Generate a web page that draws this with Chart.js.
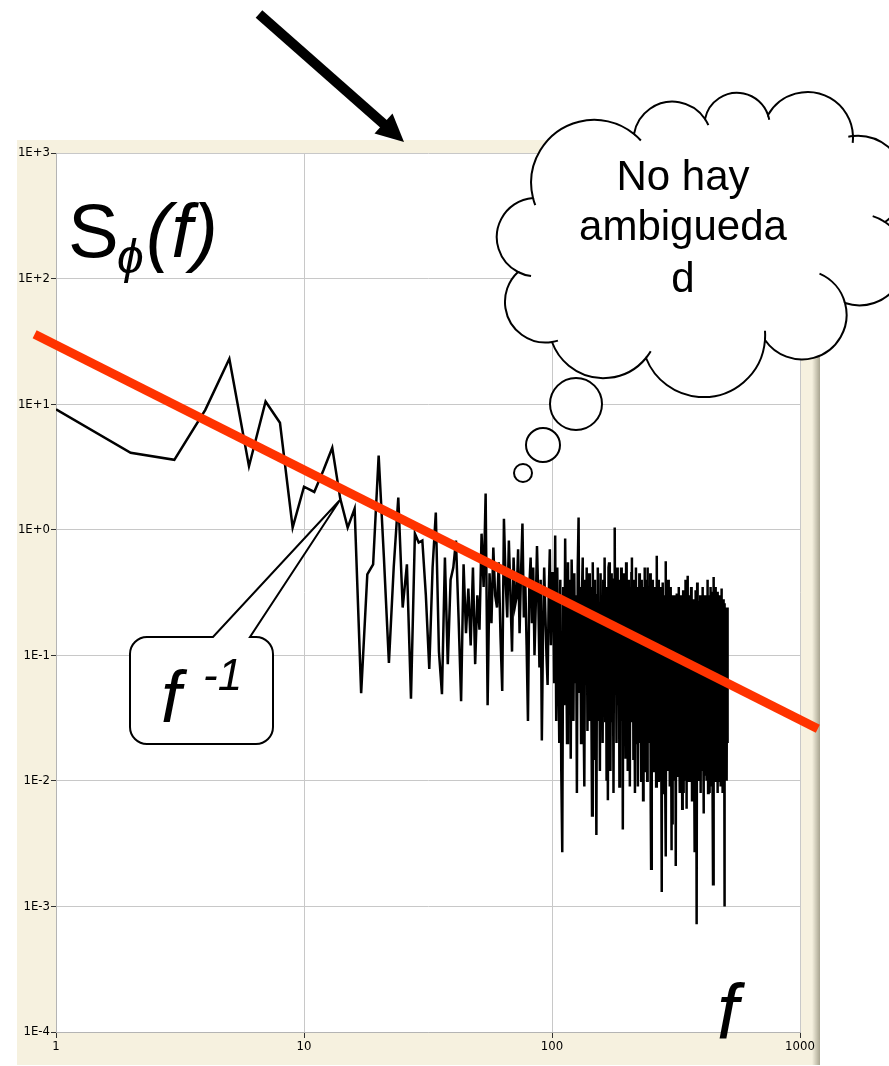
<!DOCTYPE html>
<html>
<head>
<meta charset="utf-8">
<script src="https://cdn.jsdelivr.net/npm/chart.js@4.4.1/dist/chart.umd.min.js"></script>
<style>
  body { margin: 0; background: #fff; overflow: hidden; }
  #stage { position: relative; width: 889px; height: 1066px; }
  #plot { position: absolute; left: 17px; top: 140px; width: 803px; height: 925px; }
  #deco, #labels { position: absolute; left: 0; top: 0; width: 889px; height: 1066px; pointer-events: none; }
  #labels text { font-family: Arial, 'Liberation Sans', sans-serif; fill: #000; }
</style>
</head>
<body>
<div id="stage">
  <div id="plot"><canvas id="specChart"></canvas></div>
  <canvas id="deco" width="889" height="1066"></canvas>
  <svg id="labels" width="889" height="1066">
    <text x="68" y="257" font-size="76">S</text>
    <text x="117" y="273" font-size="48" font-style="italic">ϕ</text>
    <text x="146" y="257" font-size="76" font-style="italic">(f)</text>
    <text x="717" y="1039" font-size="77" font-style="italic">f</text>
    <text x="161" y="722" font-size="72" font-style="italic">f</text>
    <text x="203" y="690" font-size="44" font-style="italic">-1</text>
    <text x="683" y="190" font-size="42" text-anchor="middle">No hay</text>
    <text x="683" y="240" font-size="42" text-anchor="middle">ambigueda</text>
    <text x="683" y="292" font-size="42" text-anchor="middle">d</text>
  </svg>
</div>
<script>
// power spectrum S(f), one value per frequency bin f = 1..512
const spectrum = [
    9.1, 4.1, 3.6, 9.0, 23, 3.2, 10.5, 7.1, 1.04, 2.2,
    2.0, 3.0, 4.5, 1.77, 1.04, 1.47, 0.05, 0.44, 0.53, 3.9,
    0.6, 0.087, 0.5, 1.8, 0.24, 0.53, 0.045, 0.93, 0.79, 0.82,
    0.3, 0.078, 0.5, 1.37, 0.107, 0.049, 0.6, 0.085, 0.4, 0.5,
    0.82, 0.2, 0.043, 0.53, 0.15, 0.34, 0.12, 0.5, 0.085, 0.3,
    0.16, 0.93, 0.35, 1.94, 0.04, 0.45, 0.18, 0.72, 0.3, 0.24,
    0.55, 0.14, 0.052, 1.22, 0.4, 0.2, 0.82, 0.3, 0.107, 0.6,
    0.25, 0.29, 0.7, 0.15, 0.45, 1.12, 0.2, 0.4, 0.12, 0.03,
    0.35, 0.6, 0.18, 0.5, 0.1, 0.25, 0.74, 0.3, 0.08, 0.4,
    0.021, 0.15, 0.5, 0.22, 0.1, 0.058, 0.3, 0.7, 0.12, 0.45,
    0.45, 0.06, 0.9, 0.03, 0.5, 0.1, 0.02, 0.4, 0.012, 0.0027,
    0.35, 0.04, 0.85, 0.15, 0.02, 0.55, 0.05, 0.4, 0.015, 0.58,
    0.2, 0.03, 0.45, 0.06, 0.3, 0.008, 0.5, 1.25, 0.05, 0.35,
    0.02, 0.3, 0.6, 0.04, 0.009, 0.4, 0.07, 0.5, 0.025, 0.25,
    0.45, 0.03, 0.35, 0.06, 0.0053, 0.55, 0.08, 0.015, 0.4, 0.04,
    0.0037, 0.3, 0.5, 0.03, 0.2, 0.012, 0.45, 0.05, 0.3, 0.02,
    0.4, 0.06, 0.6, 0.03, 0.25, 0.01, 0.35, 0.007, 0.5, 0.55,
    0.2, 0.012, 0.3, 0.45, 0.03, 0.15, 0.008, 0.4, 1.04, 0.05,
    0.3, 0.02, 0.5, 0.04, 0.2, 0.4, 0.009, 0.35, 0.03, 0.5,
    0.07, 0.3, 0.0041, 0.45, 0.025, 0.25, 0.35, 0.015, 0.55, 0.05,
    0.2, 0.012, 0.4, 0.03, 0.28, 0.009, 0.35, 0.06, 0.45, 0.6,
    0.03, 0.25, 0.015, 0.4, 0.05, 0.008, 0.3, 0.5, 0.02, 0.2,
    0.35, 0.009, 0.25, 0.04, 0.45, 0.02, 0.28, 0.06, 0.01, 0.4,
    0.05, 0.22, 0.007, 0.35, 0.03, 0.5, 0.07, 0.012, 0.3, 0.04,
    0.4, 0.01, 0.5, 0.05, 0.25, 0.02, 0.35, 0.03, 0.45, 0.007,
    0.002, 0.28, 0.03, 0.4, 0.05, 0.012, 0.3, 0.02, 0.22, 0.35,
    0.015, 0.18, 0.009, 0.3, 0.62, 0.04, 0.2, 0.01, 0.4, 0.025,
    0.25, 0.01, 0.35, 0.03, 0.18, 0.012, 0.0013, 0.28, 0.04, 0.38,
    0.02, 0.22, 0.008, 0.3, 0.05, 0.01, 0.56, 0.0025, 0.25, 0.03,
    0.32, 0.012, 0.2, 0.4, 0.015, 0.15, 0.28, 0.009, 0.22, 0.025,
    0.35, 0.04, 0.0028, 0.25, 0.06, 0.0045, 0.3, 0.02, 0.2, 0.012,
    0.3, 0.05, 0.01, 0.25, 0.02, 0.0021, 0.18, 0.31, 0.015, 0.22,
    0.04, 0.28, 0.011, 0.16, 0.35, 0.02, 0.008, 0.25, 0.05, 0.2,
    0.012, 0.3, 0.03, 0.18, 0.006, 0.22, 0.04, 0.33, 0.008, 0.2,
    0.025, 0.26, 0.01, 0.15, 0.4, 0.015, 0.22, 0.03, 0.006, 0.28,
    0.04, 0.43, 0.012, 0.18, 0.03, 0.25, 0.01, 0.22, 0.02, 0.3,
    0.04, 0.012, 0.2, 0.35, 0.015, 0.16, 0.007, 0.25, 0.03, 0.18,
    0.01, 0.28, 0.04, 0.02, 0.0027, 0.22, 0.05, 0.012, 0.33, 0.025,
    0.2, 0.009, 0.25, 0.00072, 0.38, 0.03, 0.18, 0.015, 0.22, 0.03,
    0.01, 0.27, 0.04, 0.2, 0.012, 0.3, 0.025, 0.008, 0.2, 0.05,
    0.25, 0.015, 0.17, 0.35, 0.012, 0.22, 0.03, 0.15, 0.0055, 0.28,
    0.03, 0.2, 0.012, 0.3, 0.04, 0.011, 0.24, 0.025, 0.2, 0.01,
    0.26, 0.035, 0.4, 0.015, 0.18, 0.008, 0.23, 0.04, 0.02, 0.3,
    0.05, 0.008, 0.22, 0.03, 0.35, 0.009, 0.2, 0.025, 0.27, 0.012,
    0.18, 0.32, 0.02, 0.22, 0.009, 0.0015, 0.25, 0.03, 0.18, 0.42,
    0.015, 0.24, 0.04, 0.012, 0.28, 0.025, 0.19, 0.35, 0.01, 0.16,
    0.22, 0.02, 0.26, 0.008, 0.18, 0.04, 0.32, 0.012, 0.2, 0.03,
    0.27, 0.01, 0.15, 0.23, 0.02, 0.3, 0.035, 0.19, 0.009, 0.25,
    0.025, 0.16, 0.34, 0.012, 0.22, 0.04, 0.008, 0.24, 0.17, 0.02,
    0.28, 0.04, 0.012, 0.22, 0.001, 0.19, 0.03, 0.26, 0.015, 0.17,
    0.23, 0.012, 0.04, 0.24, 0.02, 0.2, 0.01, 0.24, 0.03, 0.18,
    0.02, 0.22
];
const freqs = Array.from({ length: spectrum.length }, (_, i) => i + 1);

// red f^-1 guide line, end points
const fitFreq = [0.82, 1180];
const fitLevel = [36, 0.026];

const xTickValues = [1, 10, 100, 1000];
const xTickLabels = ['1', '10', '100', '1000'];
const yTickValues = [1e-4, 1e-3, 1e-2, 1e-1, 1, 10, 100, 1000];
const yTickLabels = ['1E-4', '1E-3', '1E-2', '1E-1', '1E+0', '1E+1', '1E+2', '1E+3'];

const tickFont = { family: "'Liberation Sans Narrow', 'DejaVu Sans Condensed', sans-serif", size: 13 };
const beige = '#f6f1df';

// beige window frame with a white plot area
const panel = {
    id: 'panel',
    beforeDraw(chart) {
        const { ctx, chartArea: a, width, height } = chart;
        ctx.save();
        ctx.fillStyle = beige;
        ctx.fillRect(0, 0, width, height);
        const g = ctx.createLinearGradient(width - 8, 0, width, 0);
        g.addColorStop(0, beige);
        g.addColorStop(1, '#a8a490');
        ctx.fillStyle = g;
        ctx.fillRect(width - 8, 0, 8, height);
        ctx.fillStyle = '#fff';
        ctx.fillRect(a.left, a.top, a.right - a.left, a.bottom - a.top);
        ctx.restore();
    }
};

new Chart(document.getElementById('specChart'), {
    type: 'line',
    data: {
        datasets: [{
            data: fitFreq.map((f, i) => ({ x: f, y: fitLevel[i] })),
            borderColor: '#ff3300',
            borderWidth: 9,
            borderCapStyle: 'butt',
            pointRadius: 0,
            clip: false,
            order: 0
        }, {
            data: freqs.map((f, i) => ({ x: f, y: spectrum[i] })),
            borderColor: '#000',
            borderWidth: 2.5,
            pointRadius: 0,
            tension: 0,
            order: 1
        }]
    },
    options: {
        responsive: true,
        maintainAspectRatio: false,
        animation: false,
        devicePixelRatio: 1,
        events: [],
        layout: { padding: { top: 13, right: 20, left: 0, bottom: 0 } },
        plugins: { legend: { display: false }, tooltip: { enabled: false } },
        scales: {
            x: {
                type: 'logarithmic', min: 1, max: 1000,
                afterBuildTicks: s => { s.ticks = xTickValues.map(v => ({ value: v })); },
                afterFit: s => { s.height = 33; },
                ticks: {
                    callback: v => xTickLabels[xTickValues.indexOf(v)],
                    font: tickFont, color: '#000', padding: 1, maxRotation: 0, autoSkip: false
                },
                grid: { color: '#c8c8c8', tickColor: '#303030', tickLength: 6 },
                border: { color: '#b4b4b4' }
            },
            y: {
                type: 'logarithmic', min: 1e-4, max: 1000,
                afterBuildTicks: s => { s.ticks = yTickValues.map(v => ({ value: v })); },
                afterFit: s => { s.width = 39; },
                ticks: {
                    callback: v => yTickLabels[yTickValues.indexOf(v)],
                    font: tickFont, color: '#000', padding: 1, autoSkip: false
                },
                grid: { color: '#c8c8c8', tickColor: '#303030', tickLength: 5 },
                border: { color: '#b4b4b4' }
            }
        }
    },
    plugins: [panel]
});

// ---- drawn shapes on top: arrow, thought cloud, callout ----
const deco = document.getElementById('deco').getContext('2d');

function circleThrough([ax, ay], [bx, by], [cx, cy]) {
    const d = 2 * (ax * (by - cy) + bx * (cy - ay) + cx * (ay - by));
    const a2 = ax * ax + ay * ay, b2 = bx * bx + by * by, c2 = cx * cx + cy * cy;
    const ux = (a2 * (by - cy) + b2 * (cy - ay) + c2 * (ay - by)) / d;
    const uy = (a2 * (cx - bx) + b2 * (ax - cx) + c2 * (bx - ax)) / d;
    return { x: ux, y: uy, r: Math.hypot(ax - ux, ay - uy) };
}

// arrow
deco.save();
deco.strokeStyle = '#000';
deco.lineWidth = 10;
deco.beginPath();
deco.moveTo(259, 14);
deco.lineTo(386, 126);
deco.stroke();
deco.fillStyle = '#000';
deco.beginPath();
deco.moveTo(404, 142);
deco.lineTo(374.5, 133.5);
deco.lineTo(392.5, 113.5);
deco.closePath();
deco.fill();
deco.restore();

// cloud lobes: start, point on arc, end, inner stub at start, inner stub at end
const lobes = [
    [[533, 198], [590, 120], [634, 134], 0.12, 0.15],
    [[634, 134], [667, 102], [705, 119], 0, 0.18],
    [[705, 119], [740, 93], [768, 115], 0, 0.15],
    [[768, 115], [808, 92], [853, 136], 0, 0.15],
    [[853, 136], [905, 180], [885, 222], 0.1, 0],
    [[885, 222], [905, 262], [845, 303], 0.3, 0],
    [[845, 303], [813, 358], [765, 340], 0.9, 0],
    [[765, 340], [700, 397], [646, 358], 0.15, 0],
    [[646, 358], [607, 378], [552, 342], 0.15, 0],
    [[552, 342], [505, 300], [518, 272], 0.15, 0],
    [[518, 272], [497, 233], [533, 198], 0.35, 0]
];
deco.save();
deco.lineWidth = 2;
deco.strokeStyle = '#000';
deco.fillStyle = '#fff';
const arcs = lobes.map(l => {
    const c = circleThrough(l[0], l[1], l[2]);
    return {
        c,
        a0: Math.atan2(l[0][1] - c.y, l[0][0] - c.x),
        a1: Math.atan2(l[2][1] - c.y, l[2][0] - c.x),
        e0: l[3], e1: l[4]
    };
});
deco.beginPath();
arcs.forEach(({ c, a0, a1 }) => deco.arc(c.x, c.y, c.r, a0, a1, false));
deco.closePath();
deco.fill();
deco.stroke();
arcs.forEach(({ c, a0, a1, e0, e1 }) => {
    if (e0) { deco.beginPath(); deco.arc(c.x, c.y, c.r, a0 - e0, a0, false); deco.stroke(); }
    if (e1) { deco.beginPath(); deco.arc(c.x, c.y, c.r, a1, a1 + e1, false); deco.stroke(); }
});
// thought bubbles
[[576, 404, 26], [543, 445, 17], [523, 473, 9]].forEach(([x, y, r]) => {
    deco.beginPath();
    deco.arc(x, y, r, 0, Math.PI * 2);
    deco.fill();
    deco.stroke();
});

// rounded callout with pointer
const bx0 = 130, by0 = 637, bx1 = 273, by1 = 744, br = 17;
deco.beginPath();
deco.moveTo(bx0 + br, by0);
deco.lineTo(213, by0);
deco.lineTo(340, 500);
deco.lineTo(250, by0);
deco.lineTo(bx1 - br, by0);
deco.arcTo(bx1, by0, bx1, by0 + br, br);
deco.lineTo(bx1, by1 - br);
deco.arcTo(bx1, by1, bx1 - br, by1, br);
deco.lineTo(bx0 + br, by1);
deco.arcTo(bx0, by1, bx0, by1 - br, br);
deco.lineTo(bx0, by0 + br);
deco.arcTo(bx0, by0, bx0 + br, by0, br);
deco.closePath();
deco.fill();
deco.stroke();
deco.restore();
</script>
</body>
</html>
